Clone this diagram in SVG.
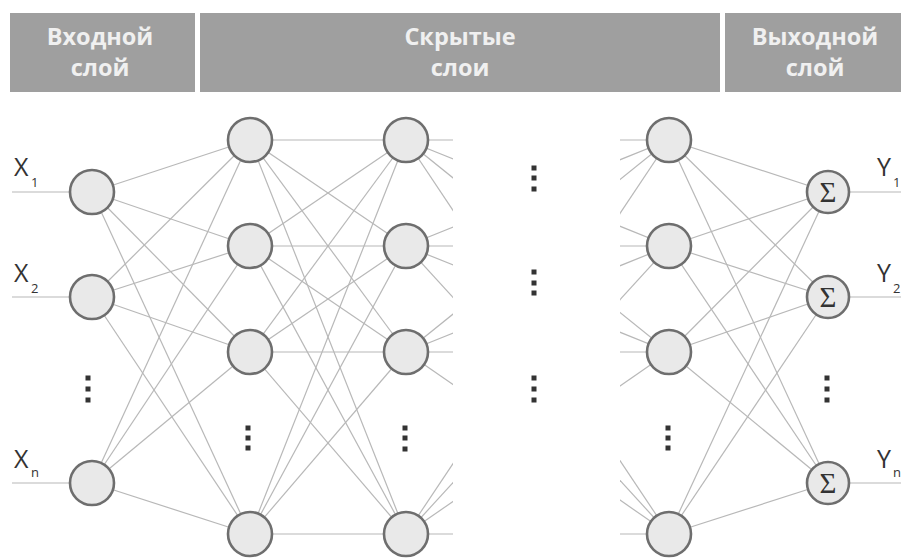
<svg xmlns="http://www.w3.org/2000/svg" width="901" height="558" viewBox="0 0 901 558">
<style>
.bar{fill:#9f9f9f}
.ht{font-family:"Open Sans","DejaVu Sans",sans-serif;font-weight:bold;font-size:23.5px;fill:#f0f0f0;text-anchor:middle}
.c line{stroke:#b8b8b8;stroke-width:1.2}
.n{fill:#e9e9e9;stroke:#6e6e6e;stroke-width:2.6}
.lab{font-family:"Open Sans","DejaVu Sans",sans-serif;font-size:25px;fill:#333}
.sub{font-family:"Open Sans","DejaVu Sans",sans-serif;font-size:13px;fill:#333}
.sig{font-family:"Liberation Serif","DejaVu Serif",serif;font-size:29px;fill:#333;text-anchor:middle}
.d{fill:#333}
</style>
<defs>
<clipPath id="gap"><rect x="0" y="0" width="453" height="558"/><rect x="620" y="0" width="281" height="558"/></clipPath>
</defs>
<g id="headers">
<rect class="bar" x="10" y="13" width="185" height="79"/>
<rect class="bar" x="200" y="13" width="520" height="79"/>
<rect class="bar" x="725" y="13" width="176" height="79"/>
<text class="ht" x="100" y="45">Входной</text>
<text class="ht" x="100" y="76">слой</text>
<text class="ht" x="460" y="45">Скрытые</text>
<text class="ht" x="460" y="76">слои</text>
<text class="ht" x="815" y="45">Выходной</text>
<text class="ht" x="815" y="76">слой</text>
</g>
<g id="connectors" class="c">
<line x1="12" y1="192" x2="92" y2="192"/>
<line x1="12" y1="297" x2="92" y2="297"/>
<line x1="12" y1="483" x2="92" y2="483"/>
<line x1="828" y1="192" x2="901" y2="192"/>
<line x1="828" y1="297" x2="901" y2="297"/>
<line x1="828" y1="483" x2="901" y2="483"/>
<line x1="92" y1="192" x2="250" y2="140"/><line x1="92" y1="192" x2="250" y2="246"/><line x1="92" y1="192" x2="250" y2="352"/><line x1="92" y1="192" x2="250" y2="534"/>
<line x1="92" y1="297" x2="250" y2="140"/><line x1="92" y1="297" x2="250" y2="246"/><line x1="92" y1="297" x2="250" y2="352"/><line x1="92" y1="297" x2="250" y2="534"/>
<line x1="92" y1="483" x2="250" y2="140"/><line x1="92" y1="483" x2="250" y2="246"/><line x1="92" y1="483" x2="250" y2="352"/><line x1="92" y1="483" x2="250" y2="534"/>
<line x1="250" y1="140" x2="406" y2="140"/><line x1="250" y1="140" x2="406" y2="246"/><line x1="250" y1="140" x2="406" y2="352"/><line x1="250" y1="140" x2="406" y2="534"/>
<line x1="250" y1="246" x2="406" y2="140"/><line x1="250" y1="246" x2="406" y2="246"/><line x1="250" y1="246" x2="406" y2="352"/><line x1="250" y1="246" x2="406" y2="534"/>
<line x1="250" y1="352" x2="406" y2="140"/><line x1="250" y1="352" x2="406" y2="246"/><line x1="250" y1="352" x2="406" y2="352"/><line x1="250" y1="352" x2="406" y2="534"/>
<line x1="250" y1="534" x2="406" y2="140"/><line x1="250" y1="534" x2="406" y2="246"/><line x1="250" y1="534" x2="406" y2="352"/><line x1="250" y1="534" x2="406" y2="534"/>
<g clip-path="url(#gap)">
<line x1="406" y1="140" x2="669" y2="140"/><line x1="406" y1="140" x2="669" y2="246"/><line x1="406" y1="140" x2="669" y2="352"/><line x1="406" y1="140" x2="669" y2="534"/>
<line x1="406" y1="246" x2="669" y2="140"/><line x1="406" y1="246" x2="669" y2="246"/><line x1="406" y1="246" x2="669" y2="352"/><line x1="406" y1="246" x2="669" y2="534"/>
<line x1="406" y1="352" x2="669" y2="140"/><line x1="406" y1="352" x2="669" y2="246"/><line x1="406" y1="352" x2="669" y2="352"/><line x1="406" y1="352" x2="669" y2="534"/>
<line x1="406" y1="534" x2="669" y2="140"/><line x1="406" y1="534" x2="669" y2="246"/><line x1="406" y1="534" x2="669" y2="352"/><line x1="406" y1="534" x2="669" y2="534"/>
</g>
<line x1="669" y1="140" x2="828" y2="192"/><line x1="669" y1="140" x2="828" y2="297"/><line x1="669" y1="140" x2="828" y2="483"/>
<line x1="669" y1="246" x2="828" y2="192"/><line x1="669" y1="246" x2="828" y2="297"/><line x1="669" y1="246" x2="828" y2="483"/>
<line x1="669" y1="352" x2="828" y2="192"/><line x1="669" y1="352" x2="828" y2="297"/><line x1="669" y1="352" x2="828" y2="483"/>
<line x1="669" y1="534" x2="828" y2="192"/><line x1="669" y1="534" x2="828" y2="297"/><line x1="669" y1="534" x2="828" y2="483"/>
</g>
<g id="input-layer">
<g id="x1"><circle class="n" cx="92" cy="192" r="22"/></g>
<g id="x2"><circle class="n" cx="92" cy="297" r="22"/></g>
<g id="xn"><circle class="n" cx="92" cy="483" r="22"/></g>
<text class="lab" x="14" y="176">X</text><text class="sub" x="31" y="187">1</text>
<text class="lab" x="14" y="282">X</text><text class="sub" x="31" y="293">2</text>
<text class="lab" x="14" y="468">X</text><text class="sub" x="31" y="477">n</text>
<rect class="d" x="85.5" y="375.5" width="5" height="5"/><rect class="d" x="85.5" y="386.5" width="5" height="5"/><rect class="d" x="85.5" y="397.5" width="5" height="5"/>
</g>
<g id="hidden-1">
<g id="h1a"><circle class="n" cx="250" cy="140" r="22"/></g>
<g id="h1b"><circle class="n" cx="250" cy="246" r="22"/></g>
<g id="h1c"><circle class="n" cx="250" cy="352" r="22"/></g>
<g id="h1d"><circle class="n" cx="250" cy="534" r="22"/></g>
<rect class="d" x="245.5" y="425.5" width="5" height="5"/><rect class="d" x="245.5" y="435.5" width="5" height="5"/><rect class="d" x="245.5" y="445.5" width="5" height="5"/>
</g>
<g id="hidden-2">
<g id="h2a"><circle class="n" cx="406" cy="140" r="22"/></g>
<g id="h2b"><circle class="n" cx="406" cy="246" r="22"/></g>
<g id="h2c"><circle class="n" cx="406" cy="352" r="22"/></g>
<g id="h2d"><circle class="n" cx="406" cy="534" r="22"/></g>
<rect class="d" x="402.5" y="425.5" width="5" height="5"/><rect class="d" x="402.5" y="435.5" width="5" height="5"/><rect class="d" x="402.5" y="446.5" width="5" height="5"/>
</g>
<g id="middle-dots">
<rect class="d" x="531.5" y="165.5" width="5" height="5"/><rect class="d" x="531.5" y="175.5" width="5" height="5"/><rect class="d" x="531.5" y="186.5" width="5" height="5"/>
<rect class="d" x="531.5" y="269.5" width="5" height="5"/><rect class="d" x="531.5" y="280.5" width="5" height="5"/><rect class="d" x="531.5" y="290.5" width="5" height="5"/>
<rect class="d" x="531.5" y="375.5" width="5" height="5"/><rect class="d" x="531.5" y="386.5" width="5" height="5"/><rect class="d" x="531.5" y="397.5" width="5" height="5"/>
</g>
<g id="hidden-3">
<g id="h3a"><circle class="n" cx="669" cy="140" r="22"/></g>
<g id="h3b"><circle class="n" cx="669" cy="246" r="22"/></g>
<g id="h3c"><circle class="n" cx="669" cy="352" r="22"/></g>
<g id="h3d"><circle class="n" cx="669" cy="534" r="22"/></g>
<rect class="d" x="665.5" y="425.5" width="5" height="5"/><rect class="d" x="665.5" y="435.5" width="5" height="5"/><rect class="d" x="665.5" y="445.5" width="5" height="5"/>
</g>
<g id="output-layer">
<g id="y1"><circle class="n" cx="828" cy="192" r="21"/><text class="sig" x="828" y="202">Σ</text></g>
<g id="y2"><circle class="n" cx="828" cy="297" r="21"/><text class="sig" x="828" y="307">Σ</text></g>
<g id="yn"><circle class="n" cx="828" cy="483" r="21"/><text class="sig" x="828" y="493">Σ</text></g>
<text class="lab" x="877" y="176">Y</text><text class="sub" x="893" y="187">1</text>
<text class="lab" x="877" y="282">Y</text><text class="sub" x="893" y="293">2</text>
<text class="lab" x="877" y="468">Y</text><text class="sub" x="893" y="477">n</text>
<rect class="d" x="824.5" y="375.5" width="5" height="5"/><rect class="d" x="824.5" y="386.5" width="5" height="5"/><rect class="d" x="824.5" y="397.5" width="5" height="5"/>
</g>
</svg>
